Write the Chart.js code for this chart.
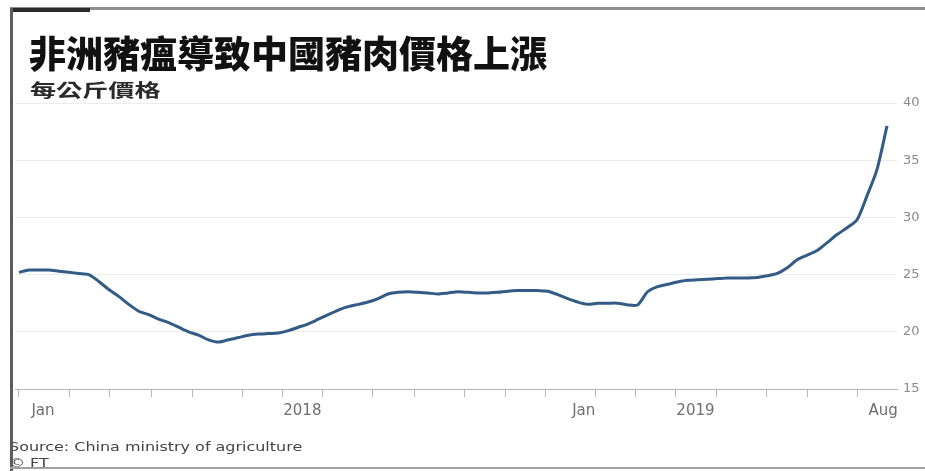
<!DOCTYPE html>
<html>
<head>
<meta charset="utf-8">
<script src="https://cdn.jsdelivr.net/npm/chart.js@4/dist/chart.umd.min.js"></script>
<style>
  html, body { margin: 0; padding: 0; background: #fff; }
  #wrap { position: relative; width: 925px; height: 471px; overflow: hidden; background: #fff; }
  #chart-box { position: absolute; left: 0; top: 0; width: 925px; height: 471px; }
  .frame-top { position: absolute; left: 10px; top: 7px; width: 915px; height: 3px; background: #8e8e8e; }
  .frame-mark { position: absolute; left: 10px; top: 8px; width: 80px; height: 4px; background: #2b2b2b; }
  .frame-left { position: absolute; left: 10px; top: 8px; width: 3px; height: 463px; background: #5c5c5c; }
  .frame-bottom { position: absolute; left: 10px; top: 467px; width: 915px; height: 2px; background: #a0a0a0; }
  .title { position: absolute; left: 29px; top: 34px; font: 900 37px "Noto Sans CJK TC", sans-serif; line-height: 1; color: #111; white-space: nowrap; }
  .subtitle { position: absolute; left: 30px; top: 80px; font: bold 18px "Noto Sans CJK TC", sans-serif; line-height: 1; color: #2a2a2a; transform: scaleX(1.45); transform-origin: left top; white-space: nowrap; }
  .source, .credit { position: absolute; left: 9px; font: 12px "DejaVu Sans", sans-serif; color: #444; white-space: nowrap; transform: scaleX(1.33); transform-origin: left top; }
  .source { top: 440px; }
  .credit { top: 456px; }
</style>
</head>
<body>
<div id="wrap">
  <div id="chart-box"><canvas id="pork-chart"></canvas></div>
  <div class="title">非洲豬瘟導致中國豬肉價格上漲</div>
  <div class="subtitle">每公斤價格</div>
  <div class="source">Source: China ministry of agriculture</div>
  <div class="credit">© FT</div>
  <div class="frame-top"></div>
  <div class="frame-mark"></div>
  <div class="frame-left"></div>
  <div class="frame-bottom"></div>
</div>
<script>
// weekly pork price, yuan per kg
const prices = [
  25.2, 25.4, 25.4, 25.4, 25.3, 25.2, 25.1, 25.0, 24.4, 23.7,
  23.1, 22.4, 21.8, 21.5, 21.1, 20.8, 20.4, 20.0, 19.7, 19.3,
  19.1, 19.3, 19.5, 19.7, 19.8, 19.85, 19.9, 20.1, 20.4, 20.7,
  21.1, 21.5, 21.9, 22.2, 22.4, 22.6, 22.9, 23.3, 23.45, 23.5,
  23.45, 23.4, 23.3, 23.4, 23.5, 23.45, 23.4, 23.4, 23.45, 23.55,
  23.6, 23.6, 23.6, 23.55, 23.25, 22.9, 22.6, 22.4, 22.5, 22.5,
  22.5, 22.35, 22.35, 23.5, 23.95, 24.15, 24.35, 24.5, 24.55, 24.6,
  24.65, 24.7, 24.7, 24.7, 24.75, 24.9, 25.1, 25.6, 26.3, 26.7,
  27.1, 27.8, 28.5, 29.1, 29.8, 31.9, 34.2, 38.0
];
const weeks = prices.map((_, i) => i);

// week index where each month begins (tick marks)
const monthStarts = [0, 5.1, 9.1, 13.3, 17.4, 22.4, 26.4, 30.4, 35.4, 39.6,
  44.7, 48.8, 52.8, 57.8, 61.8, 65.8, 69.9, 74.9, 79.0, 84.0];

// x-axis labels and where they sit
const tickLabels = ['Jan', '2018', 'Jan', '2019', 'Aug'];
const tickLabelWeeks = [2.4, 28.4, 56.6, 67.8, 86.6];

const yTicks = [15, 20, 25, 30, 35, 40];

const isLabelTick = v => tickLabelWeeks.indexOf(v) !== -1;

new Chart(document.getElementById('pork-chart'), {
  type: 'line',
  data: {
    datasets: [{
      data: weeks.map((w, i) => ({ x: w, y: prices[i] })),
      borderColor: '#325b85',
      borderWidth: 3,
      pointRadius: 0,
      tension: 0.25,
      fill: false
    }]
  },
  options: {
    responsive: true,
    maintainAspectRatio: false,
    animation: false,
    layout: { padding: { left: 15, right: 0, top: 103, bottom: 52 } },
    plugins: {
      legend: { display: false },
      tooltip: { enabled: false }
    },
    scales: {
      x: {
        type: 'linear',
        min: -0.4,
        max: 88,
        afterBuildTicks: axis => {
          const all = monthStarts.concat(tickLabelWeeks).sort((a, b) => a - b);
          axis.ticks = all.map(v => ({ value: v }));
        },
        afterFit: scale => { scale.height = 30; },
        ticks: {
          autoSkip: false,
          maxRotation: 0,
          padding: 5,
          color: '#6f6f6f',
          font: { family: 'DejaVu Sans', size: 15 },
          callback: v => {
            const i = tickLabelWeeks.indexOf(v);
            return i === -1 ? '' : tickLabels[i];
          }
        },
        grid: {
          drawOnChartArea: false,
          tickLength: 8,
          tickWidth: 1,
          tickColor: ctx => (ctx.tick && isLabelTick(ctx.tick.value)) ? 'rgba(0,0,0,0)' : '#b5b5b5'
        },
        border: { color: '#b5b5b5', width: 1 }
      },
      y: {
        position: 'right',
        min: 15,
        max: 40,
        afterBuildTicks: axis => { axis.ticks = yTicks.map(v => ({ value: v })); },
        afterFit: scale => { scale.width = 28; },
        ticks: {
          padding: 6,
          color: '#8a8a8a',
          font: { family: 'DejaVu Sans', size: 13 }
        },
        grid: { color: '#ececec', drawTicks: false },
        border: { display: false }
      }
    }
  }
});
</script>
</body>
</html>
